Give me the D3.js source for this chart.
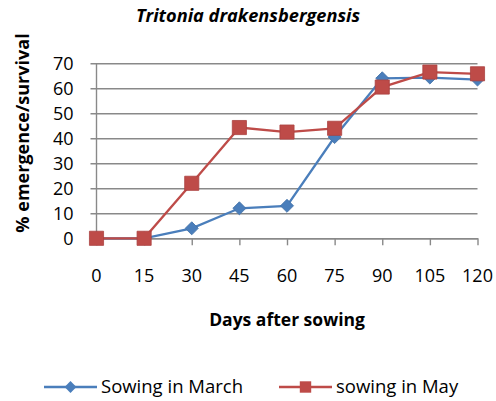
<!DOCTYPE html>
<html>
<head>
<meta charset="utf-8">
<script src="https://cdn.jsdelivr.net/npm/d3@7"></script>
<style>
  body { margin: 0; background: #fff; }
  text { font-family: "Open Sans", sans-serif; fill: #000; }
</style>
</head>
<body>
<svg id="chart" width="496" height="401"></svg>
<script>
const days = [0, 15, 30, 45, 60, 75, 90, 105, 120];
const marchValues = [0, 0, 4, 12, 13, 40.5, 64, 64.3, 63.5];
const mayValues = [0, 0, 22, 44.3, 42.5, 44, 60.5, 66.5, 65.8];
const yTicks = [0, 10, 20, 30, 40, 50, 60, 70];
const seriesNames = ["Sowing in March", "sowing in May"];

const blue = "#4a7ebb", red = "#be4b48";

const svg = d3.select("#chart");
const margin = { left: 96.5, right: 18.5, top: 63.3, bottom: 162.7 };
const w = 496 - margin.left - margin.right;
const h = 401 - margin.top - margin.bottom;

const x = d3.scalePoint().domain(days).range([0, w]);
const y = d3.scaleLinear().domain([0, 70]).range([h, 0]);

const g = svg.append("g").attr("transform", `translate(${margin.left},${margin.top})`);

// gridlines (drawn as long outer ticks to the left of the axis)
g.append("g")
  .call(d3.axisLeft(y).tickValues(yTicks).tickSize(-w).tickFormat(""))
  .call(a => a.select(".domain").remove())
  .call(a => a.selectAll("line").attr("stroke", "#898989").attr("stroke-width", 1.4).attr("x1", -6));

// y axis line
g.append("line").attr("x1", 0).attr("x2", 0).attr("y1", 0).attr("y2", h)
  .attr("stroke", "#898989").attr("stroke-width", 1.4);

// y tick labels
g.append("g").selectAll("text").data(yTicks).join("text")
  .attr("x", -23).attr("y", d => y(d)).attr("dy", "0.36em")
  .attr("text-anchor", "end").style("font-size", "18px").text(d => d);

// x axis
const xAxis = g.append("g").attr("transform", `translate(0,${h})`)
  .call(d3.axisBottom(x).tickSize(7).tickSizeOuter(0).tickFormat(""));
xAxis.select(".domain").attr("stroke", "#898989").attr("stroke-width", 1.4);
xAxis.selectAll("line").attr("stroke", "#898989").attr("stroke-width", 1.4);

g.append("g").selectAll("text").data(days).join("text")
  .attr("x", d => x(d)).attr("y", h + 43.5)
  .attr("text-anchor", "middle").style("font-size", "18px").text(d => d);

const line = d3.line().x((d, i) => x(days[i])).y(d => y(d));

function drawSeries(values, color, isDiamond) {
  g.append("path").datum(values).attr("d", line)
    .attr("fill", "none").attr("stroke", color).attr("stroke-width", 2.3);
  g.append("g").selectAll("path").data(values).join("path")
    .attr("transform", (d, i) => `translate(${x(days[i])},${y(d)})` + (isDiamond ? " rotate(45)" : ""))
    .attr("d", d3.symbol().type(d3.symbolSquare).size(isDiamond ? 85 : 200))
    .attr("fill", color).attr("stroke", d3.color(color).darker(0.3)).attr("stroke-width", 0.8);
}
drawSeries(marchValues, blue, true);
drawSeries(mayValues, red, false);

// title
svg.append("text").attr("x", 248).attr("y", 22).attr("text-anchor", "middle")
  .style("font-size", "18.2px").style("font-weight", "bold").style("font-style", "italic")
  .text("Tritonia drakensbergensis");

// y axis title
svg.append("text").attr("transform", "translate(29,133) rotate(-90)").attr("text-anchor", "middle")
  .style("font-size", "18px").style("font-weight", "bold").text("% emergence/survival");

// x axis title
svg.append("text").attr("x", 287).attr("y", 326).attr("text-anchor", "middle")
  .style("font-size", "17.5px").style("font-weight", "bold").text("Days after sowing");

// legend
const legend = svg.append("g").attr("transform", "translate(0,387)");
const legendItems = [
  { name: seriesNames[0], color: blue, diamond: true, x0: 44 },
  { name: seriesNames[1], color: red, diamond: false, x0: 279 }
];
legendItems.forEach(it => {
  legend.append("line").attr("x1", it.x0).attr("x2", it.x0 + 53).attr("y1", 0).attr("y2", 0)
    .attr("stroke", it.color).attr("stroke-width", 2.3);
  legend.append("path").attr("transform", `translate(${it.x0 + 26.5},0)` + (it.diamond ? " rotate(45)" : ""))
    .attr("d", d3.symbol().type(d3.symbolSquare).size(it.diamond ? 70 : 130))
    .attr("fill", it.color);
  legend.append("text").attr("x", it.x0 + 57).attr("y", 5.8)
    .style("font-size", "18.5px").text(it.name);
});
</script>
</body>
</html>
